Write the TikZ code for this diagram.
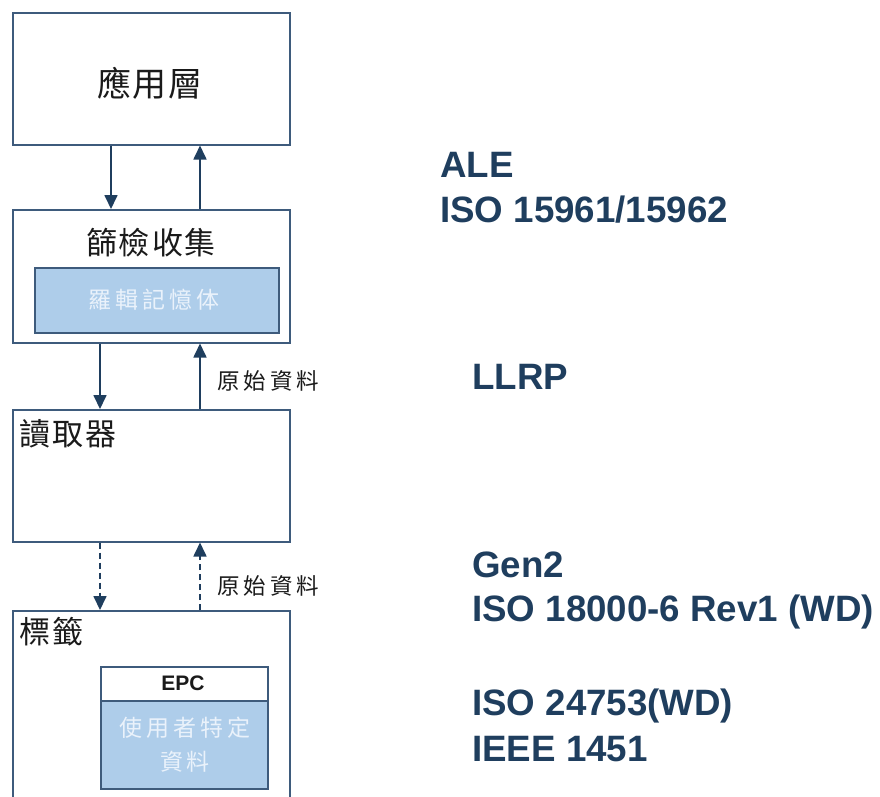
\documentclass[tikz,border=0pt]{standalone}
\usepackage{fontspec}
\setmainfont{Liberation Sans}
\newfontfamily\cjk{Noto Sans CJK TC}
\usetikzlibrary{arrows.meta}
\definecolor{navy}{HTML}{1F3E5E}
\definecolor{edge}{HTML}{3E5B7C}
\definecolor{pale}{HTML}{AECDEA}
\definecolor{ink}{HTML}{1A1A1A}
\definecolor{paletext}{HTML}{EAF2FB}
\tikzset{
  box/.style={draw=edge, line width=1.5pt, fill=white, inner sep=0pt, anchor=north west},
  fillbox/.style={box, fill=pale},
  arr/.style={draw=navy, line width=1.7pt, -{Triangle[length=14pt,width=13pt]}},
  darr/.style={arr, dash pattern=on 6pt off 4pt},
  stdtxt/.style={text=navy, font=\fontsize{36.7}{40}\selectfont\bfseries, anchor=base west, inner sep=0pt},
  cjklab/.style={text=ink, inner sep=0pt},
  paletxt/.style={text=paletext, inner sep=0pt, font=\cjk\fontsize{23}{23}\selectfont},
}
\begin{document}
\begin{tikzpicture}[x=1pt,y=-1pt]
\clip (0,0) rectangle (880,796);
\fill[white] (0,0) rectangle (880,796);

% layer boxes
\node[box, minimum width=277, minimum height=132] (app) at (12,12) {};
\node[box, minimum width=277, minimum height=133] (filt) at (12,209) {};
\node[fillbox, minimum width=244, minimum height=65] (mem) at (34,267) {};
\node[box, minimum width=277, minimum height=132] (reader) at (12,409) {};
\node[box, minimum width=277, minimum height=220] (tag) at (12,610) {};
\node[box, minimum width=167, minimum height=34] (epc) at (100,666) {};
\node[fillbox, minimum width=167, minimum height=88] (user) at (100,700) {};

% box captions
\node[cjklab, font=\cjk\fontsize{34}{34}\selectfont] (apptxt) at (150,83) {應\kern2pt 用\kern2pt 層};
\node[cjklab, font=\cjk\fontsize{31}{31}\selectfont] (filttxt) at (151,243) {篩\kern2pt 檢\kern2pt 收\kern2pt 集};
\node[paletxt] (memtxt) at (154,300) {羅\kern4pt 輯\kern4pt 記\kern4pt 憶\kern4pt 体};
\node[cjklab, font=\cjk\fontsize{31}{31}\selectfont, anchor=west] (readtxt) at (19,434) {讀\kern2pt 取\kern2pt 器};
\node[cjklab, font=\cjk\fontsize{31}{31}\selectfont, anchor=west] (tagtxt) at (19,632) {標\kern2pt 籤};
\node[inner sep=0pt, text=ink, font=\fontsize{21}{21}\selectfont\bfseries] (epctxt) at (183,683) {EPC};
\node[paletxt] (usertxt1) at (185,728) {使\kern4pt 用\kern4pt 者\kern4pt 特\kern4pt 定};
\node[paletxt] (usertxt2) at (185,762) {資\kern4pt 料};

% connectors
\draw[arr] ([xshift=99pt]app.south west) -- ([xshift=99pt]filt.north west);
\draw[arr] ([xshift=188pt]filt.north west) -- ([xshift=188pt]app.south west);
\draw[arr] ([xshift=88pt]filt.south west) -- ([xshift=88pt]reader.north west);
\draw[arr] ([xshift=188pt]reader.north west) -- ([xshift=188pt]filt.south west);
\draw[darr] ([xshift=88pt]reader.south west) -- ([xshift=88pt]tag.north west);
\draw[darr] ([xshift=188pt]tag.north west) -- ([xshift=188pt]reader.south west);

\node[cjklab, font=\cjk\fontsize{22.5}{22.5}\selectfont, anchor=west] (raw1) at (217,381) {原\kern4pt 始\kern4pt 資\kern4pt 料};
\node[cjklab, font=\cjk\fontsize{22.5}{22.5}\selectfont, anchor=west] (raw2) at (217,586) {原\kern4pt 始\kern4pt 資\kern4pt 料};

% protocol / standard labels
\node[stdtxt] (ale) at (440,177) {ALE};
\node[stdtxt] (iso1) at (440,222) {ISO 15961/15962};
\node[stdtxt] (llrp) at (472,389) {LLRP};
\node[stdtxt] (gen2) at (472,577) {Gen2};
\node[stdtxt] (iso2) at (472,621) {ISO 18000-6 Rev1 (WD)};
\node[stdtxt] (iso3) at (472,715) {ISO 24753(WD)};
\node[stdtxt] (ieee) at (472,761) {IEEE 1451};
\end{tikzpicture}
\end{document}
